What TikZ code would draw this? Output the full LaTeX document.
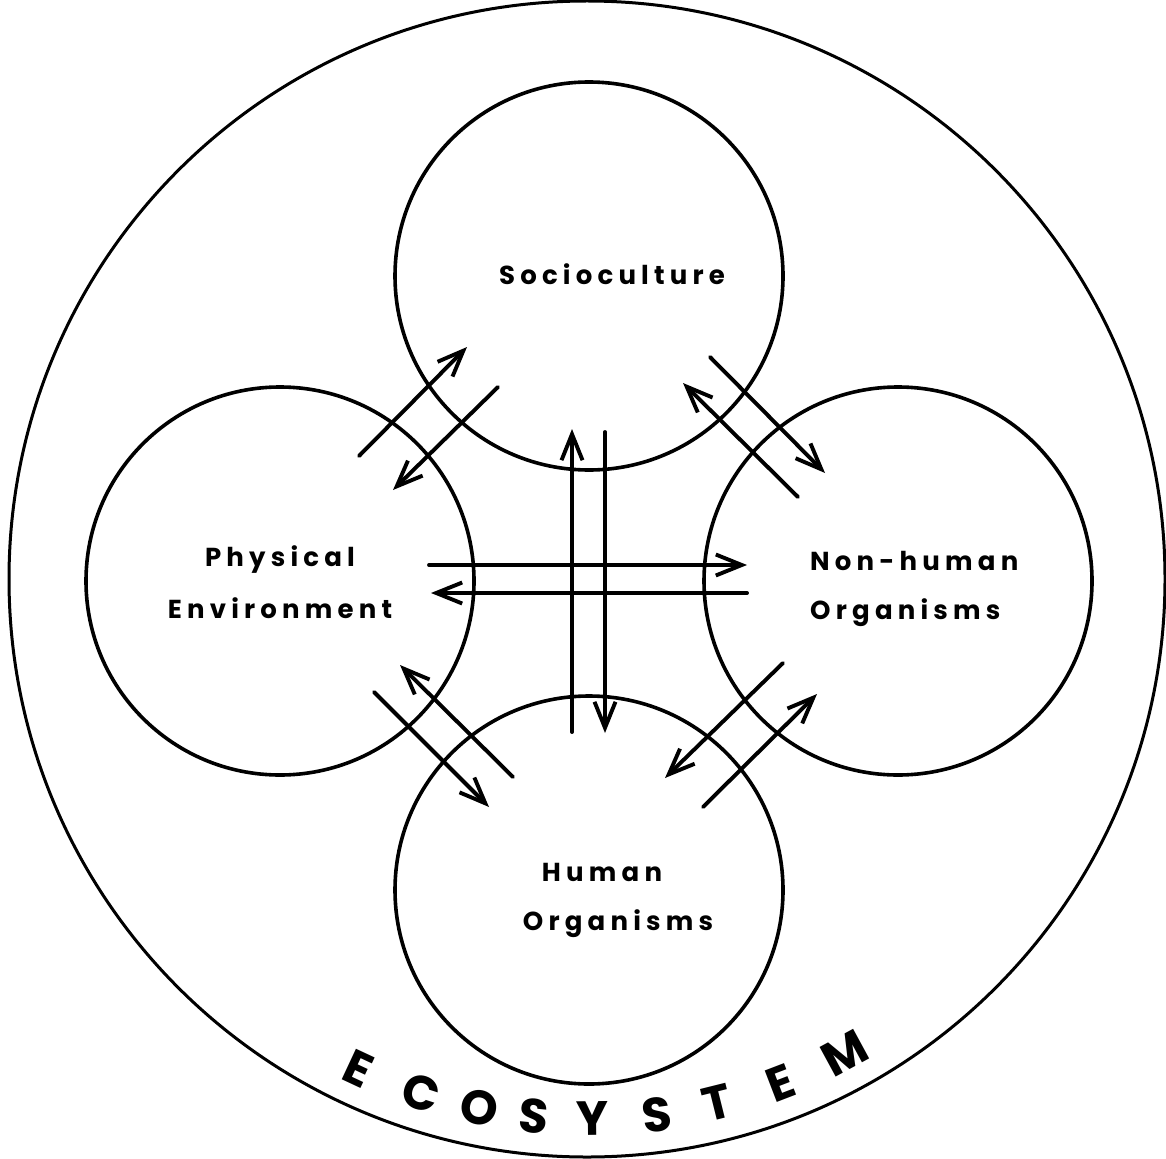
\documentclass[tikz,border=0pt]{standalone}
\usepackage{fontspec}
\usetikzlibrary{arrows.meta}
\newfontfamily\labfont[LetterSpace=20]{Poppins}
\newfontfamily\ecofont{Poppins}
\begin{document}
\begin{tikzpicture}[x=1pt,y=-1pt,
  ring/.style={circle, draw, line width=3.6pt, minimum size=388pt, inner sep=0pt},
  outerring/.style={circle, draw, line width=3pt, minimum size=1156pt, inner sep=0pt},
  flow/.style={line width=3.9pt, line cap=round, -{Straight Barb[length=26pt,width=21pt]}},
  lab/.style={font=\labfont\bfseries\fontsize{26}{30}\selectfont, inner sep=0pt},
  ecol/.style={font=\ecofont\bfseries\fontsize{48}{52}\selectfont, inner sep=0pt}]
\useasboundingbox (0,0) rectangle (1166,1158);
\node[outerring] (eco) at (587,579) {};
\node[ring] (soc) at (589,276) {};
\node[ring] (phy) at (280,581) {};
\node[ring] (non) at (898,581) {};
\node[ring] (hum) at (589,890) {};
% labels
\node[lab, anchor=base] (tsoc) at (612,284) {Socioculture};
\node[lab, anchor=base] (tphy1) at (280,566) {Physical};
\node[lab, anchor=base] (tphy2) at (280,618) {Environment};
\node[lab, anchor=base west] (tnon1) at (810,570) {Non-human};
\node[lab, anchor=base west] (tnon2) at (810,619) {Organisms};
\node[lab, anchor=base] (thum1) at (602,881) {Human};
\node[lab, anchor=base] (thum2) at (618,930) {Organisms};
% ECOSYSTEM
\node[ecol, rotate=-25.0] (e1) at ([shift={(-115.0:540pt)}]eco.center) {E};
\node[ecol, rotate=-17.9] (e2) at ([shift={(-107.9:540pt)}]eco.center) {C};
\node[ecol, rotate=-11.5] (e3) at ([shift={(-101.5:540pt)}]eco.center) {O};
\node[ecol, rotate=-5.6] (e4) at ([shift={(-95.6:540pt)}]eco.center) {S};
\node[ecol, rotate=0.6] (e5) at ([shift={(-89.4:540pt)}]eco.center) {Y};
\node[ecol, rotate=7.4] (e6) at ([shift={(-82.6:540pt)}]eco.center) {S};
\node[ecol, rotate=14.0] (e7) at ([shift={(-76.0:540pt)}]eco.center) {T};
\node[ecol, rotate=21.0] (e8) at ([shift={(-69.0:540pt)}]eco.center) {E};
\node[ecol, rotate=28.5] (e9) at ([shift={(-61.5:540pt)}]eco.center) {M};
% connector end points
\coordinate (a1) at (359,456); \coordinate (a2) at (467,347);
\coordinate (b1) at (498,387); \coordinate (b2) at (393,490);
\coordinate (c1) at (798,497); \coordinate (c2) at (683,383);
\coordinate (d1) at (710,357); \coordinate (d2) at (825,473);
\coordinate (e1c) at (513,777); \coordinate (e2c) at (400,665);
\coordinate (f1) at (374,692); \coordinate (f2) at (489,807);
\coordinate (g1) at (783,663); \coordinate (g2) at (665,778);
\coordinate (h1) at (703,807); \coordinate (h2) at (817,694);
\coordinate (i1) at (429,565); \coordinate (i2) at (747,565);
\coordinate (j1) at (747,593); \coordinate (j2) at (431,593);
\coordinate (k1) at (572,732); \coordinate (k2) at (572,429);
\coordinate (l1) at (605,432); \coordinate (l2) at (605,733);
\draw[flow] (a1) -- (a2);
\draw[flow] (b1) -- (b2);
\draw[flow] (c1) -- (c2);
\draw[flow] (d1) -- (d2);
\draw[flow] (e1c) -- (e2c);
\draw[flow] (f1) -- (f2);
\draw[flow] (g1) -- (g2);
\draw[flow] (h1) -- (h2);
\draw[flow] (i1) -- (i2);
\draw[flow] (j1) -- (j2);
\draw[flow] (k1) -- (k2);
\draw[flow] (l1) -- (l2);
\end{tikzpicture}
\end{document}
